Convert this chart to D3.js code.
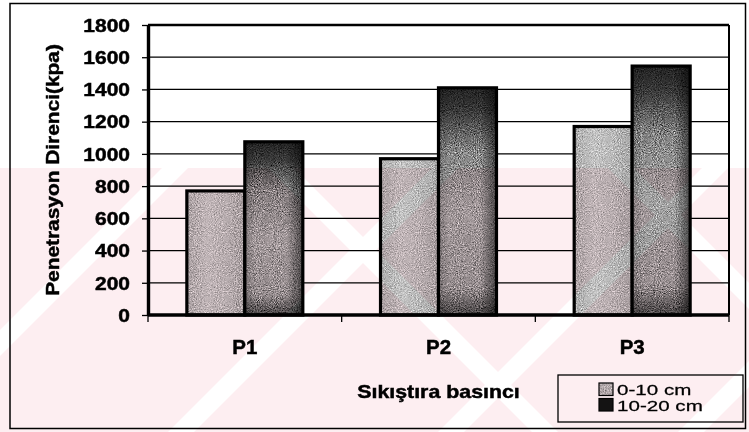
<!DOCTYPE html>
<html>
<head>
<meta charset="utf-8">
<script src="https://cdn.jsdelivr.net/npm/d3@7/dist/d3.min.js"></script>
<style>
  html, body { margin: 0; padding: 0; background: #fff; }
  svg { display: block; }
  text { font-family: "Liberation Sans", Arial, Helvetica, sans-serif; fill: #000; }
  .heavy { font-weight: 700; stroke: #000; stroke-width: 0.45px; }
</style>
</head>
<body>
<svg id="chart" width="749" height="432"></svg>
<script>
// Soil penetration resistance by compaction pressure and depth
const categories = ["P1", "P2", "P3"];
const seriesNames = ["0-10 cm", "10-20 cm"];
const depth0to10 = [770, 970, 1170];
const depth10to20 = [1075, 1410, 1545];
const yTicks = [0, 200, 400, 600, 800, 1000, 1200, 1400, 1600, 1800];
const yTitle = "Penetrasyon Direnci(kpa)";
const xTitle = "Sıkıştıra basıncı";

const W = 749, H = 432;
const plot = { left: 148, right: 729, top: 25, bottom: 315 };

const svg = d3.select("#chart");
const defs = svg.append("defs");

// stipple texture for bar fills
const grain = defs.append("filter").attr("id", "grain")
  .attr("color-interpolation-filters", "sRGB")
  .attr("x", 0).attr("y", 0).attr("width", 1).attr("height", 1);
grain.append("feTurbulence").attr("type", "fractalNoise")
  .attr("baseFrequency", 0.95).attr("numOctaves", 2).attr("seed", 7).attr("result", "n");
grain.append("feColorMatrix").attr("in", "n").attr("type", "matrix")
  .attr("values", "0.7 0.7 0.7 0 -0.55  0.7 0.7 0.7 0 -0.55  0.7 0.7 0.7 0 -0.55  0 0 0 0 1")
  .attr("result", "g");
grain.append("feBlend").attr("in", "g").attr("in2", "SourceGraphic").attr("mode", "overlay").attr("result", "b");
grain.append("feComposite").attr("in", "b").attr("in2", "SourceGraphic").attr("operator", "in");

// light series: soft horizontal shading
const gLight = defs.append("linearGradient").attr("id", "gLight").attr("x1", 0).attr("x2", 1).attr("y1", 0).attr("y2", 0);
[[0, "#acacac"], [0.35, "#c2c2c2"], [0.7, "#b8b8b8"], [1, "#a6a6a6"]]
  .forEach(([o, c]) => gLight.append("stop").attr("offset", o).attr("stop-color", c));

// dark series: dark cap fading to grey body
const gDark = defs.append("linearGradient").attr("id", "gDark").attr("x1", 0).attr("x2", 0).attr("y1", 0).attr("y2", 1);
[[0, "#222"], [0.1, "#383838"], [0.28, "#858585"], [0.55, "#a2a2a2"], [0.88, "#969696"], [1, "#444"]]
  .forEach(([o, c]) => gDark.append("stop").attr("offset", o).attr("stop-color", c));
const gDarkSide = defs.append("linearGradient").attr("id", "gDarkSide").attr("x1", 0).attr("x2", 1).attr("y1", 0).attr("y2", 0);
[[0, "rgba(0,0,0,0.2)"], [0.18, "rgba(0,0,0,0)"], [0.72, "rgba(0,0,0,0)"], [1, "rgba(0,0,0,0.55)"]]
  .forEach(([o, c]) => gDarkSide.append("stop").attr("offset", o).attr("stop-color", c));

svg.append("rect").attr("width", W).attr("height", H).attr("fill", "#fff");

// scales
const x0 = d3.scaleBand().domain(categories).range([plot.left, plot.right]).padding(0);
const x1 = d3.scaleBand().domain(seriesNames).range([0, x0.bandwidth()]).paddingInner(0).paddingOuter(0.67);
const y = d3.scaleLinear().domain([0, 1800]).range([plot.bottom, plot.top]);

// horizontal gridlines
svg.append("g").selectAll("line").data(yTicks.filter(v => v > 0 && v < 1800)).join("line")
  .attr("x1", plot.left).attr("x2", plot.right)
  .attr("y1", d => y(d)).attr("y2", d => y(d))
  .attr("stroke", "#000").attr("stroke-width", 1.3);

// bars
const rows = categories.map((c, i) => ({
  cat: c,
  vals: [{ s: seriesNames[0], v: depth0to10[i] }, { s: seriesNames[1], v: depth10to20[i] }]
}));
const barG = svg.append("g");
const groups = barG.selectAll("g").data(rows).join("g")
  .attr("transform", d => `translate(${x0(d.cat)},0)`);
const bars = groups.selectAll("g").data(d => d.vals).join("g");
bars.append("rect")
  .attr("x", d => x1(d.s)).attr("y", d => y(d.v))
  .attr("width", x1.bandwidth()).attr("height", d => y(0) - y(d.v))
  .attr("fill", d => d.s === seriesNames[0] ? "url(#gLight)" : "url(#gDark)")
  .attr("filter", "url(#grain)");
bars.filter(d => d.s === seriesNames[1]).append("rect")
  .attr("x", d => x1(d.s)).attr("y", d => y(d.v))
  .attr("width", x1.bandwidth()).attr("height", d => y(0) - y(d.v))
  .attr("fill", "url(#gDarkSide)");
bars.append("rect")
  .attr("x", d => x1(d.s)).attr("y", d => y(d.v))
  .attr("width", x1.bandwidth()).attr("height", d => y(0) - y(d.v))
  .attr("fill", "none").attr("stroke", "#000").attr("stroke-width", 3.2);

// plot frame: top line and right edge
svg.append("line").attr("x1", plot.left).attr("x2", plot.right)
  .attr("y1", y(1800)).attr("y2", y(1800)).attr("stroke", "#000").attr("stroke-width", 2.6);
svg.append("line").attr("x1", plot.right).attr("x2", plot.right)
  .attr("y1", y(1800)).attr("y2", y(0)).attr("stroke", "#000").attr("stroke-width", 2);

// y axis
const yAxis = svg.append("g").attr("transform", `translate(${plot.left},0)`)
  .call(d3.axisLeft(y).tickValues(yTicks).tickFormat(d3.format("d")).tickSize(6).tickSizeOuter(0));
yAxis.select(".domain").attr("stroke", "#000").attr("stroke-width", 3.4);
yAxis.selectAll(".tick line").attr("stroke", "#000").attr("stroke-width", 1.3);
yAxis.selectAll(".tick text")
  .attr("class", "heavy")
  .attr("x", -15).attr("dy", "0.36em")
  .attr("transform", "scale(1.2,1)")
  .style("font-size", "17.5px")
  .style("font-family", "'Liberation Sans', Arial, sans-serif").attr("fill", "#000");

// x axis: ticks at category boundaries
const xAxisG = svg.append("g").attr("transform", `translate(0,${plot.bottom})`);
xAxisG.append("line").attr("x1", plot.left).attr("x2", plot.right).attr("y1", 0).attr("y2", 0)
  .attr("stroke", "#000").attr("stroke-width", 3.4);
const bounds = categories.map(c => x0(c)).concat([x0(categories[categories.length - 1]) + x0.bandwidth()]);
xAxisG.selectAll("line.b").data(bounds).join("line").attr("class", "b")
  .attr("x1", d => d).attr("x2", d => d).attr("y1", 0).attr("y2", 7)
  .attr("stroke", "#000").attr("stroke-width", 1.3);
xAxisG.selectAll("text").data(categories).join("text")
  .attr("class", "heavy")
  .attr("transform", d => `translate(${x0(d) + x0.bandwidth() / 2},38.5) scale(1.05,1)`)
  .attr("text-anchor", "middle")
  .style("font-size", "19.5px")
  .text(d => d);

// axis titles
svg.append("text")
  .attr("class", "heavy")
  .attr("transform", "translate(59,170) rotate(-90) scale(1.16,1)")
  .attr("text-anchor", "middle")
  .style("font-size", "18px")
  .text(yTitle);
svg.append("text")
  .attr("class", "heavy")
  .attr("transform", `translate(${x0("P2") + x0.bandwidth() / 2},397.5) scale(1.22,1)`)
  .attr("text-anchor", "middle")
  .style("font-size", "17.5px")
  .text(xTitle);

// legend
const leg = svg.append("g").attr("transform", "translate(558,375)");
leg.append("rect").attr("width", 185).attr("height", 47)
  .attr("fill", "#fff").attr("stroke", "#000").attr("stroke-width", 1.3);
const legItems = leg.selectAll("g").data(seriesNames).join("g")
  .attr("transform", (d, i) => `translate(41,${8 + i * 15.5})`);
legItems.append("rect").attr("width", 14).attr("height", 12.5)
  .attr("fill", (d, i) => i === 0 ? "#b4b4b4" : "#141414")
  .attr("filter", (d, i) => i === 0 ? "url(#grain)" : null);
legItems.append("rect").attr("width", 14).attr("height", 12.5)
  .attr("fill", "none").attr("stroke", "#000").attr("stroke-width", 1.2);
legItems.append("text")
  .attr("transform", "translate(18,12) scale(1.42,1)")
  .style("font-size", "14.5px")
  .style("stroke", "#000").style("stroke-width", "0.25px")
  .text(d => d);

// outer chart border
svg.append("rect").attr("x", 10).attr("y", 3.5).attr("width", 735.5).attr("height", 425)
  .attr("fill", "none").attr("stroke", "#000").attr("stroke-width", 1.5);

// faint diagonal background banding over the lower part of the page
const band = svg.append("g").style("mix-blend-mode", "multiply");
defs.append("clipPath").attr("id", "bandClip")
  .append("rect").attr("x", 0).attr("y", 168).attr("width", W).attr("height", H - 168);
const bandInner = band.append("g").attr("clip-path", "url(#bandClip)");
bandInner.append("rect").attr("x", 0).attr("y", 168).attr("width", W).attr("height", H - 168).attr("fill", "#fdeef1");
const slashes = [330, 600, 870, 1110];
const backslashes = [-100, -440];
bandInner.selectAll("path.s").data(slashes).join("path").attr("class", "s")
  .attr("d", c => `M${c - 432},432 L${c - 432 + 26},432 L${c - 168 + 26},168 L${c - 168},168 Z`)
  .attr("fill", "#fff");
bandInner.selectAll("path.bs").data(backslashes).join("path").attr("class", "bs")
  .attr("d", d => `M${168 - d},168 L${168 - d + 26},168 L${432 - d + 26},432 L${432 - d},432 Z`)
  .attr("fill", "#fff");
</script>
</body>
</html>
